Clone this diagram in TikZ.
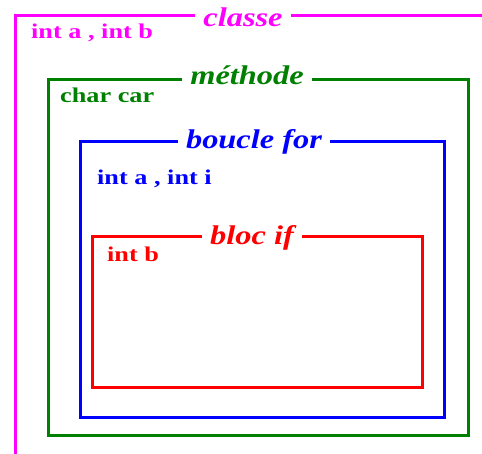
\documentclass[tikz,border=0pt]{standalone}
\usepackage{fontspec}
\setmainfont{Liberation Serif}
\newfontfamily\titlefont[FakeStretch=1.2]{Liberation Serif}
\newfontfamily\lblfont[FakeStretch=1.25]{Liberation Serif}
\definecolor{cmag}{RGB}{255,0,255}
\definecolor{cgreen}{RGB}{0,128,0}
\definecolor{cblue}{RGB}{0,0,255}
\definecolor{cred}{RGB}{255,0,0}
\tikzset{
  frame/.style={line width=3pt},
  title/.style={fill=white, inner xsep=8pt, inner ysep=3pt, anchor=base,
    font=\titlefont\fontsize{27}{30}\selectfont\bfseries\itshape},
  lbl/.style={anchor=base west, inner sep=0pt,
    font=\lblfont\fontsize{21}{24}\selectfont\bfseries}
}
\begin{document}
\begin{tikzpicture}[x=1pt,y=-1pt]
\useasboundingbox (0,0) rectangle (482,454);
% classe (open frame)
\draw[frame, cmag] (15,460) -- (15,16) -- (490,16);
\node[title, text=cmag] (classe) at (243,27) {classe};
\node[lbl, text=cmag] (vclasse) at (31,39) {int a , int b};
% methode
\draw[frame, cgreen] (48,80) rectangle (468,435);
\node[title, text=cgreen] (methode) at (247,85) {méthode};
\node[lbl, text=cgreen] (vmethode) at (60,103) {char car};
% boucle for
\draw[frame, cblue] (80,142) rectangle (444,417);
\node[title, text=cblue] (boucle) at (254,149) {boucle for};
\node[lbl, text=cblue] (vboucle) at (97,185) {int a , int i};
% bloc if
\draw[frame, cred] (92,237) rectangle (422,387);
\node[title, text=cred] (blocif) at (252,245) {bloc if};
\node[lbl, text=cred] (vblocif) at (107,262) {int b};
\end{tikzpicture}
\end{document}
